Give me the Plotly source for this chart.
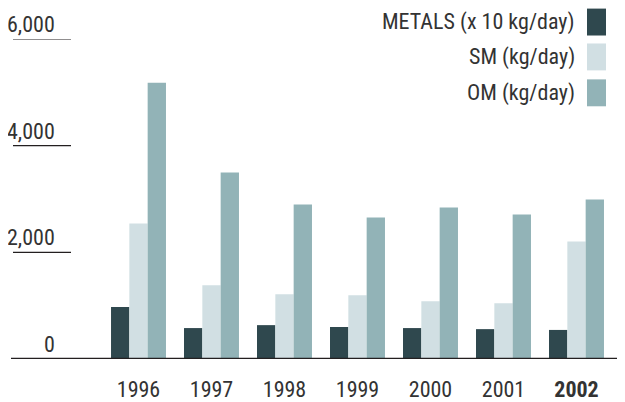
import plotly.graph_objects as go

years = ["1996", "1997", "1998", "1999", "2000", "2001", "2002"]
year_labels = ["1996", "1997", "1998", "1999", "2000", "2001", "<b>2002</b>"]
metals = [975, 580, 635, 600, 580, 560, 545]
sm = [2540, 1385, 1215, 1195, 1085, 1045, 2205]
om = [5180, 3495, 2895, 2655, 2840, 2710, 2990]
series_names = ["METALS (x 10 kg/day)", "SM (kg/day)", "OM (kg/day)"]
colors = ["#2f484e", "#d1dfe3", "#92b3b7"]
y_ticks = [0, 2000, 4000, 6000]
y_tick_text = ["0", "2,000", "4,000", "6,000"]

FONT = "Roboto Condensed, DejaVu Sans Condensed, sans-serif"
TXT = "#333333"
FS = 22

# page body has an 8px default margin; figure is sized/offset to compensate
OFF = 8
W, H = 625 - OFF, 402 - OFF

def px(x):
    return (x - OFF) / W

fig = go.Figure()
for name, vals, col in zip(series_names, [metals, sm, om], colors):
    fig.add_trace(go.Bar(x=years, y=vals, name=name, marker=dict(color=col, line=dict(width=0)),
                         showlegend=False, hoverinfo="x+y+name"))

x0 = -(138.5 - OFF) / 73
x1 = x0 + W / 73
top_px = 38.5 - OFF
bot_px = 359.5 - OFF
plot_h = bot_px - top_px

fig.update_layout(
    width=W, height=H,
    margin=dict(l=0, r=0, t=top_px, b=H - bot_px, pad=0, autoexpand=False),
    paper_bgcolor="white", plot_bgcolor="white",
    barmode="group", bargap=0.247, bargroupgap=0,
    xaxis=dict(type="category", range=[x0, x1], showgrid=False, automargin=False,
               zeroline=False, showline=False, ticks="",
               tickvals=years, ticktext=year_labels, ticklabelstandoff=15,
               tickfont=dict(family=FONT, size=FS, color=TXT)),
    yaxis=dict(range=[0, 6000], showticklabels=False, showgrid=False, zeroline=False,
               showline=False, ticks="", automargin=False),
    font=dict(family=FONT, color=TXT, size=FS),
)

# baseline
fig.add_shape(type="line", xref="paper", yref="y", x0=px(11), x1=1, y0=0, y1=0,
              line=dict(color="#231f20", width=2.5))
# y tick labels and underlines
for v, t in zip(y_ticks, y_tick_text):
    if v > 0:
        fig.add_shape(type="line", xref="paper", yref="y", x0=px(13), x1=px(71), y0=v, y1=v,
                      line=dict(color="#231f20", width=1.2))
    fig.add_annotation(x=px(57), xref="paper", y=v, yref="y", text=t, showarrow=False,
                       xanchor="right", yanchor="bottom", yshift=0,
                       font=dict(family=FONT, size=FS, color=TXT))

# legend
leg_top = [8, 43, 79]
for name, col, top in zip(series_names, colors, leg_top):
    y_top = 1 + (38.5 - top) / plot_h
    y_bot = 1 + (38.5 - (top + 27)) / plot_h
    fig.add_shape(type="rect", xref="paper", yref="paper", x0=px(587), x1=px(606),
                  y0=y_bot, y1=y_top, fillcolor=col, line=dict(width=0))
    fig.add_annotation(x=px(577), xref="paper", y=(y_top + y_bot) / 2, yref="paper", text=name,
                       showarrow=False, xanchor="right", yanchor="middle",
                       font=dict(family=FONT, size=FS, color=TXT))

fig.write_html("out.html")
